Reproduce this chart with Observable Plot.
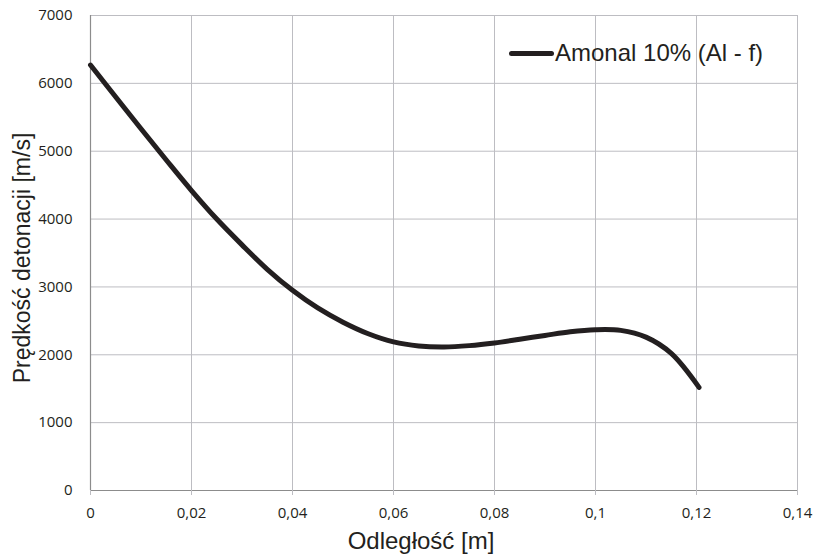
<!DOCTYPE html>
<html><head><meta charset="utf-8">
<script src="https://cdn.jsdelivr.net/npm/d3@7"></script>
<script src="https://cdn.jsdelivr.net/npm/@observablehq/plot@0.6"></script>
<style>
body{margin:0;background:#fff;}
#wrap{position:relative;width:814px;height:557px;}
#legend{position:absolute;left:509px;top:38px;height:30px;display:flex;align-items:center;font-family:"Liberation Sans",Arial,sans-serif;font-size:24px;color:#231f20;}
#legend span.sw{display:inline-block;width:45px;height:5px;background:#231f20;border-radius:3px;margin-right:1px;}
</style></head>
<body><div id="wrap"><div id="legend"><span class="sw"></span><span id="lgtext"></span></div></div>
<script>
const distance = [0, 0.005, 0.01, 0.015, 0.02, 0.025, 0.03, 0.035, 0.04, 0.045, 0.05, 0.055, 0.06, 0.065, 0.07, 0.075, 0.08, 0.085, 0.09, 0.095, 0.1, 0.105, 0.11, 0.115, 0.1205];
const velocity = [6270, 5800, 5330, 4870, 4420, 4000, 3620, 3260, 2950, 2690, 2480, 2310, 2190, 2130, 2115, 2135, 2175, 2230, 2285, 2340, 2370, 2360, 2260, 2020, 1520];
const xTicks = [0, 0.02, 0.04, 0.06, 0.08, 0.1, 0.12, 0.14];
const yTicks = [0, 1000, 2000, 3000, 4000, 5000, 6000, 7000];
const seriesName = "Amonal 10% (Al - f)";
const xTitle = "Odległość [m]";
const yTitle = "Prędkość detonacji [m/s]";

document.getElementById("lgtext").textContent = seriesName;
const data = distance.map((d, i) => ({x: d, y: velocity[i]}));
const fmtX = d => String(d).replace(".", ",");
const fmtY = d => String(d);
const tickFont = "'Open Sans','Liberation Sans',Arial,sans-serif";
const titleFont = "'Liberation Sans',Arial,sans-serif";

const chart = Plot.plot({
  width: 814, height: 557,
  marginLeft: 90, marginRight: 17, marginTop: 15, marginBottom: 67,
  style: {fontFamily: tickFont, fontSize: "15px", color: "#231f20", background: "#fff"},
  x: {domain: [0, 0.14], label: null},
  y: {domain: [0, 7000], label: null},
  marks: [
    Plot.gridX(xTicks, {stroke: "#bdbdc2", strokeOpacity: 1, strokeWidth: 1}),
    Plot.gridY(yTicks, {stroke: "#bdbdc2", strokeOpacity: 1, strokeWidth: 1}),
    Plot.ruleY([0], {stroke: "#8c8c8c", strokeWidth: 1.2}),
    Plot.ruleX([0], {stroke: "#8c8c8c", strokeWidth: 1.2}),
    Plot.axisX({ticks: xTicks, tickFormat: fmtX, tickSize: 5, tickPadding: 12, stroke: "#bdbdc2", label: null, fontSize: 15, fontFamily: tickFont}),
    Plot.axisY({ticks: yTicks, tickFormat: fmtY, tickSize: 0, tickPadding: 18, label: null, fontSize: 15, fontFamily: tickFont}),
    Plot.line(data, {x: "x", y: "y", curve: "catmull-rom", stroke: "#231f20", strokeWidth: 5, strokeLinecap: "round"}),
    Plot.text([xTitle], {frameAnchor: "bottom", lineAnchor: "middle", textAnchor: "middle", dx: -23, dy: 51, fontSize: 24, fontFamily: titleFont, fill: "#231f20"}),
    Plot.text([yTitle], {frameAnchor: "left", lineAnchor: "middle", textAnchor: "middle", dx: -68, dy: 5, rotate: -90, fontSize: 23, fontFamily: titleFont, fill: "#231f20"})
  ]
});
document.getElementById("wrap").prepend(chart);
chart.style.position = "absolute"; chart.style.left = "0"; chart.style.top = "0";
</script>
</body></html>
